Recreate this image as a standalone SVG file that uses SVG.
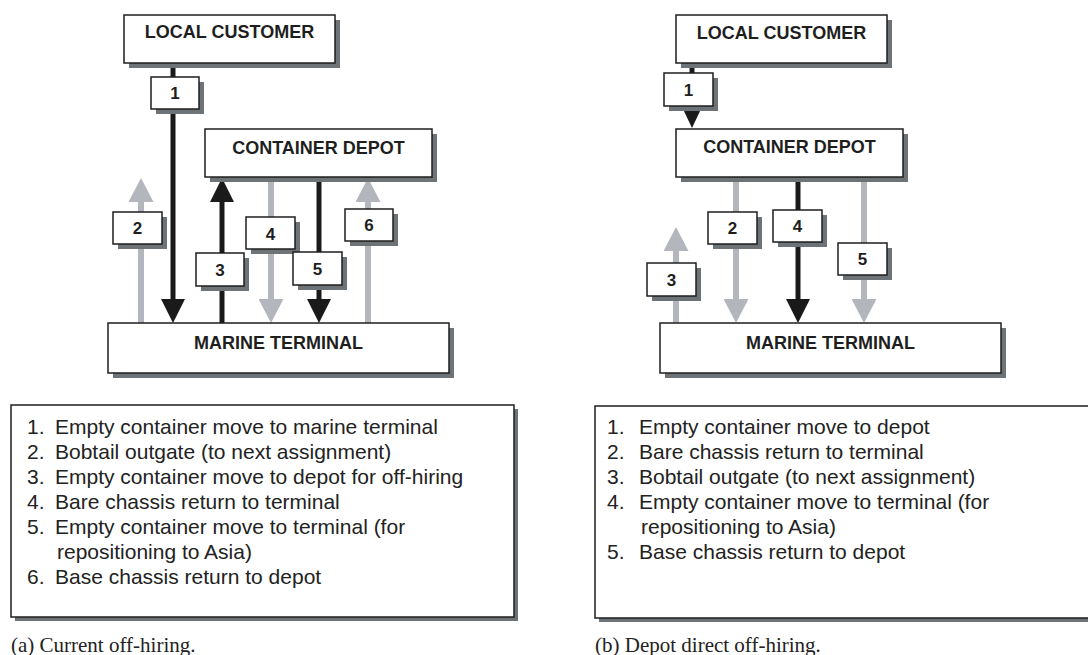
<svg xmlns="http://www.w3.org/2000/svg" width="1088" height="655" viewBox="0 0 1088 655">
<style>
  .shadow { fill: #6e7378; }
  .box { fill: #ffffff; stroke: #1e1e1e; stroke-width: 1.5; }
  .title { font-family: "Liberation Sans", Arial, sans-serif; font-weight: bold; font-size: 18px; fill: #1e1e1e; text-anchor: middle; }
  .num { font-family: "Liberation Sans", Arial, sans-serif; font-weight: bold; font-size: 17px; fill: #1e1e1e; text-anchor: middle; }
  .legend { font-family: "Liberation Sans", Arial, sans-serif; font-size: 21px; fill: #222222; }
  .caption { font-family: "Liberation Serif", "Times New Roman", serif; font-size: 21px; fill: #222222; }
  .blk { stroke: #1a1a1a; stroke-width: 5; fill: none; }
  .gry { stroke: #b3b7bd; stroke-width: 6; fill: none; }
</style>
<defs>
  <marker id="hb" markerUnits="userSpaceOnUse" markerWidth="24" markerHeight="24" viewBox="0 0 24 24" refX="0" refY="12" orient="auto">
    <path d="M0,0 L24,12 L0,24 Z" fill="#1a1a1a"/>
  </marker>
  <marker id="hg" markerUnits="userSpaceOnUse" markerWidth="24" markerHeight="25" viewBox="0 0 24 25" refX="0" refY="12.5" orient="auto">
    <path d="M0,0 L24,12.5 L0,25 Z" fill="#b3b7bd"/>
  </marker>
  <marker id="hbs" markerUnits="userSpaceOnUse" markerWidth="19" markerHeight="18" viewBox="0 0 19 18" refX="0" refY="9" orient="auto">
    <path d="M0,0 L19,9 L0,18 Z" fill="#1a1a1a"/>
  </marker>
</defs>

<!-- Connectors -->
<g id="connectors">
  <!-- left panel -->
  <path class="blk" d="M173,63 V299" marker-end="url(#hb)"/>
  <path class="gry" d="M141,323 V202" marker-end="url(#hg)"/>
  <path class="blk" d="M222,323 V202" marker-end="url(#hb)"/>
  <path class="gry" d="M271,177 V299" marker-end="url(#hg)"/>
  <path class="blk" d="M319,177 V299" marker-end="url(#hb)"/>
  <path class="gry" d="M368,323 V202" marker-end="url(#hg)"/>
  <!-- right panel -->
  <path class="blk" d="M692,63 V109" marker-end="url(#hbs)"/>
  <path class="gry" d="M676,323 V251" marker-end="url(#hg)"/>
  <path class="gry" d="M736,177 V299" marker-end="url(#hg)"/>
  <path class="blk" d="M798,177 V299" marker-end="url(#hb)"/>
  <path class="gry" d="M864,177 V299" marker-end="url(#hg)"/>
</g>

<!-- Left panel nodes -->
<g id="a-local-customer">
  <rect class="shadow" x="129" y="20" width="211" height="48"/>
  <rect class="box" x="124" y="15" width="211" height="48"/>
  <text class="title" x="229.5" y="38">LOCAL CUSTOMER</text>
</g>
<g id="a-container-depot">
  <rect class="shadow" x="210" y="134" width="227" height="48"/>
  <rect class="box" x="205" y="129" width="227" height="48"/>
  <text class="title" x="318.5" y="154">CONTAINER DEPOT</text>
</g>
<g id="a-marine-terminal">
  <rect class="shadow" x="113" y="328" width="341" height="50"/>
  <rect class="box" x="108" y="323" width="341" height="50"/>
  <text class="title" x="278.5" y="349">MARINE TERMINAL</text>
</g>
<g id="a-label-1">
  <rect class="shadow" x="156" y="82" width="48" height="32"/>
  <rect class="box" x="151" y="77" width="48" height="32"/>
  <text class="num" x="175" y="99">1</text>
</g>
<g id="a-label-2">
  <rect class="shadow" x="118" y="217" width="49" height="32"/>
  <rect class="box" x="113" y="212" width="49" height="32"/>
  <text class="num" x="137.5" y="234">2</text>
</g>
<g id="a-label-3">
  <rect class="shadow" x="201" y="258" width="48" height="33"/>
  <rect class="box" x="196" y="253" width="48" height="33"/>
  <text class="num" x="220" y="276">3</text>
</g>
<g id="a-label-4">
  <rect class="shadow" x="251" y="222" width="49" height="32"/>
  <rect class="box" x="246" y="217" width="49" height="32"/>
  <text class="num" x="270.5" y="240">4</text>
</g>
<g id="a-label-5">
  <rect class="shadow" x="298" y="257" width="49" height="33"/>
  <rect class="box" x="293" y="252" width="49" height="33"/>
  <text class="num" x="317.5" y="275">5</text>
</g>
<g id="a-label-6">
  <rect class="shadow" x="350" y="214" width="48" height="32"/>
  <rect class="box" x="345" y="209" width="48" height="32"/>
  <text class="num" x="369" y="231">6</text>
</g>

<!-- Right panel nodes -->
<g id="b-local-customer">
  <rect class="shadow" x="681" y="20" width="211" height="48"/>
  <rect class="box" x="676" y="15" width="211" height="48"/>
  <text class="title" x="781.5" y="39">LOCAL CUSTOMER</text>
</g>
<g id="b-container-depot">
  <rect class="shadow" x="681" y="134" width="227" height="48"/>
  <rect class="box" x="676" y="129" width="227" height="48"/>
  <text class="title" x="789.5" y="153">CONTAINER DEPOT</text>
</g>
<g id="b-marine-terminal">
  <rect class="shadow" x="665" y="328" width="341" height="50"/>
  <rect class="box" x="660" y="323" width="341" height="50"/>
  <text class="title" x="830.5" y="349">MARINE TERMINAL</text>
</g>
<g id="b-label-1">
  <rect class="shadow" x="669" y="78" width="49" height="33"/>
  <rect class="box" x="664" y="73" width="49" height="33"/>
  <text class="num" x="688.5" y="96">1</text>
</g>
<g id="b-label-2">
  <rect class="shadow" x="713" y="217" width="49" height="32"/>
  <rect class="box" x="708" y="212" width="49" height="32"/>
  <text class="num" x="732.5" y="234">2</text>
</g>
<g id="b-label-3">
  <rect class="shadow" x="652" y="268" width="49" height="33"/>
  <rect class="box" x="647" y="263" width="49" height="33"/>
  <text class="num" x="671.5" y="286">3</text>
</g>
<g id="b-label-4">
  <rect class="shadow" x="778" y="215" width="49" height="32"/>
  <rect class="box" x="773" y="210" width="49" height="32"/>
  <text class="num" x="797.5" y="232">4</text>
</g>
<g id="b-label-5">
  <rect class="shadow" x="843" y="248" width="49" height="32"/>
  <rect class="box" x="838" y="243" width="49" height="32"/>
  <text class="num" x="862.5" y="265">5</text>
</g>

<!-- Legends -->
<g id="a-legend">
  <rect class="shadow" x="15" y="409" width="503" height="212"/>
  <rect class="box" x="11" y="405" width="503" height="212"/>
  <text class="legend" y="434"><tspan x="27">1.</tspan><tspan x="55">Empty container move to marine terminal</tspan></text>
  <text class="legend" y="459"><tspan x="27">2.</tspan><tspan x="55">Bobtail outgate (to next assignment)</tspan></text>
  <text class="legend" y="484"><tspan x="27">3.</tspan><tspan x="55">Empty container move to depot for off-hiring</tspan></text>
  <text class="legend" y="509"><tspan x="27">4.</tspan><tspan x="55">Bare chassis return to terminal</tspan></text>
  <text class="legend" y="534"><tspan x="27">5.</tspan><tspan x="55">Empty container move to terminal (for</tspan></text>
  <text class="legend" x="57" y="559">repositioning to Asia)</text>
  <text class="legend" y="584"><tspan x="27">6.</tspan><tspan x="55">Base chassis return to depot</tspan></text>
</g>
<g id="b-legend">
  <rect class="shadow" x="599" y="410" width="500" height="212"/>
  <rect class="box" x="595" y="406" width="500" height="212"/>
  <text class="legend" y="434"><tspan x="607">1.</tspan><tspan x="639">Empty container move to depot</tspan></text>
  <text class="legend" y="459"><tspan x="607">2.</tspan><tspan x="639">Bare chassis return to terminal</tspan></text>
  <text class="legend" y="484"><tspan x="607">3.</tspan><tspan x="639">Bobtail outgate (to next assignment)</tspan></text>
  <text class="legend" y="509"><tspan x="607">4.</tspan><tspan x="639">Empty container move to terminal (for</tspan></text>
  <text class="legend" x="641" y="534">repositioning to Asia)</text>
  <text class="legend" y="559"><tspan x="607">5.</tspan><tspan x="639">Base chassis return to depot</tspan></text>
</g>

<!-- Captions -->
<text class="caption" x="11" y="652">(a) Current off-hiring.</text>
<text class="caption" x="595" y="652">(b) Depot direct off-hiring.</text>
</svg>
